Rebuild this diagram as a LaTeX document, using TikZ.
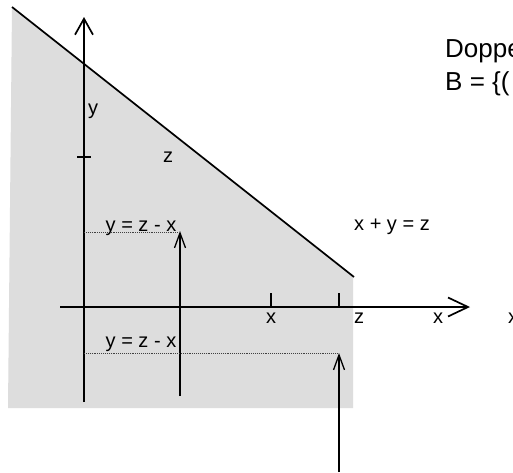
\documentclass[tikz,border=0pt]{standalone}
\usepackage{fontspec}
\setmainfont{Liberation Sans}
\usetikzlibrary{arrows.meta}
\tikzset{
  lbl/.style={inner sep=0pt, anchor=base, font=\fontsize{20}{23}\selectfont},
  big/.style={inner sep=0pt, anchor=base west, font=\fontsize{26}{30}\selectfont},
  axis/.style={line width=2pt},
  tickmark/.style={line width=2pt},
  vec/.style={line width=1.3pt, -{Straight Barb[length=15pt,width=11pt,line width=1.3pt]}},
  guide/.style={densely dotted, line width=0.9pt, black!75},
}
\begin{document}
\begin{tikzpicture}[x=1pt,y=-1pt]
\clip (0,0) rectangle (513,472);
\fill[white] (0,0) rectangle (513,472);
% shaded region
\fill[fill={rgb,255:red,221;green,221;blue,221}] (12,7) -- (353,277) -- (353,408) -- (8,408) -- cycle;
% boundary line x+y=z
\coordinate (l1) at (12,7);
\coordinate (l2) at (354,277);
\draw[line width=1.7pt] (l1) -- (l2);
% axes
\coordinate (ybot) at (84,402);
\coordinate (ytop) at (84,17);
\coordinate (xl) at (60,307);
\coordinate (xr) at (470,307);
\draw[axis, -{Straight Barb[length=16pt,width=18pt,line width=1.7pt]}] (ybot) -- (ytop);
\draw[axis, -{Straight Barb[length=20pt,width=19pt,line width=1.7pt]}] (xl) -- (xr);
% ticks
\coordinate (yt1) at (77,157); \coordinate (yt2) at (91,157);
\draw[tickmark] (yt1) -- (yt2);
\coordinate (t1a) at (180,293); \coordinate (t1b) at (180,307);
\coordinate (t2a) at (271,293); \coordinate (t2b) at (271,307);
\coordinate (t3a) at (339,293); \coordinate (t3b) at (339,307);
\draw[tickmark] (t1a) -- (t1b);
\draw[tickmark] (t2a) -- (t2b);
\draw[tickmark] (t3a) -- (t3b);
% vertical arrows
\coordinate (v1a) at (180,396); \coordinate (v1b) at (180,231);
\coordinate (v2a) at (339,472); \coordinate (v2b) at (339,353);
\draw[vec] (v1a) -- (v1b);
\draw[vec] (v2a) -- (v2b);
% dotted guides
\coordinate (g1a) at (84,232); \coordinate (g1b) at (178,232);
\coordinate (g2a) at (84,353); \coordinate (g2b) at (337,353);
\draw[guide] (g1a) -- (g1b);
\draw[guide] (g2a) -- (g2b);
% labels
\node[lbl] (ly) at (93,114) {y};
\node[lbl] (lz) at (168,162) {z};
\node[lbl] (eq1) at (141,231) {y = z - x};
\node[lbl] (eq2) at (141,347) {y = z - x};
\node[lbl] (lx1) at (271,323) {x};
\node[lbl] (lz2) at (359,323) {z};
\node[lbl] (lx2) at (438,323) {x};
\node[lbl, anchor=base west] (lx3) at (508,323) {x};
\node[lbl] (sum) at (392,230) {x + y = z};
\node[big] (t1) at (445,57) {Doppel};
\node[big] (t2) at (445,90) {B = \{(};
\end{tikzpicture}
\end{document}
